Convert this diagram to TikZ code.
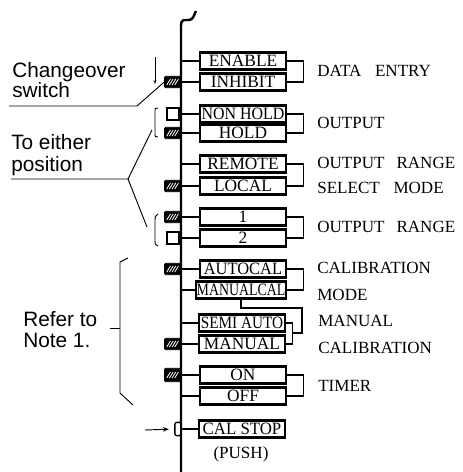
\documentclass[tikz,border=0pt]{standalone}
\usepackage{fontspec}
\setmainfont{Liberation Serif}
\newfontfamily\lblfont{Liberation Sans}
\usepackage{graphicx}
\usetikzlibrary{arrows.meta}
\begin{document}
\begin{tikzpicture}[x=0.75pt,y=-0.75pt,
  swbox/.style={draw, line width=1.7pt, fill=white, minimum width=65pt, minimum height=12.8pt,
    inner sep=0pt, text height=8.5pt, text depth=0pt, font=\fontsize{13}{14}\selectfont},
  conn/.style={line width=1.2pt},
  brk/.style={line width=1pt},
  leader/.style={line width=0.7pt},
  hatch/.style={draw, fill=black, line width=0.6pt, rounded corners=0.8pt,
    minimum width=12pt, minimum height=8.5pt, inner sep=0pt,
    path picture={\foreach \d in {-3,-1,1,3}
      {\draw[white, line width=0.6pt] ([xshift=\d pt]path picture bounding box.center) ++(-1.4pt,-2.3pt) -- ++(2.8pt,4.6pt);}}},
  emptysw/.style={draw, line width=1.3pt, fill=white, minimum width=9.5pt, minimum height=8.5pt, inner sep=0pt},
  side/.style={anchor=base west, inner sep=0pt, font=\fontsize{12.8}{14}\selectfont},
  lbl/.style={anchor=base west, inner sep=0pt, font=\lblfont\fontsize{15.6}{18}\selectfont}]

\useasboundingbox (0,0) rectangle (462,472);
\fill[white] (0,0) rectangle (462,472);

% main vertical line
\coordinate (mtop) at (181,26);
\coordinate (mbot) at (181,472);
\draw[line width=1.8pt] (mbot) -- (mtop) .. controls (181,19) and (184,20) .. (189,20)
  .. controls (193,20) and (194,15) .. (196,11);

% boxes
\node[swbox] (enable)   at (243,61)  {ENABLE};
\node[swbox] (inhibit)  at (243,82)  {INHIBIT};
\node[swbox] (nonhold)  at (243,114) {\scalebox{0.92}[1]{NON HOLD}};
\node[swbox] (hold)     at (243,133) {HOLD};
\node[swbox] (remote)   at (243,164) {REMOTE};
\node[swbox] (local)    at (243,186) {LOCAL};
\node[swbox] (one)      at (243,217) {1};
\node[swbox] (two)      at (243,238) {2};
\node[swbox] (autocal)  at (243,269) {\scalebox{0.95}[1]{AUTOCAL}};
\node[swbox, minimum width=68pt] (manualcal) at (241,290) {\scalebox{0.8}[1]{MANUALCAL}};
\node[swbox] (semiauto) at (242,323) {\scalebox{0.88}[1]{SEMI AUTO}};
\node[swbox] (manual)   at (242,344) {MANUAL};
\node[swbox] (on)       at (243,375) {ON};
\node[swbox] (off)      at (243,396) {OFF};
\node[swbox] (calstop)  at (242,429) {\scalebox{0.97}[1]{CAL STOP}};
\node[side, anchor=center] (push) at (241,454) {(PUSH)};

% connectors from main line to boxes
\foreach \n in {enable,inhibit,nonhold,hold,remote,local,one,two,autocal,manualcal,semiauto,manual,on,off,calstop}
  {\draw[conn] (mtop |- \n.west) -- (\n.west);}

% right brackets
\draw[brk] (enable.east) -- ++(16,0) |- (inhibit.east);
\draw[brk] (nonhold.east) -- ++(16,0) |- (hold.east);
\draw[brk] (remote.east) -- ++(16,0) |- (local.east);
\draw[brk] (one.east) -- ++(16,0) |- (two.east);
\draw[brk] (autocal.east) -- ++(16,0) |- (manualcal.east);
\draw[brk] (semiauto.east) -- ++(6,0) |- (manual.east);
\coordinate (join) at (292,333);
\draw[brk] (manualcal.south) |- (302,308) |- (join);
\draw[brk] (on.east) -- ++(16,0) |- (off.east);

% switches
\node[hatch, anchor=east] (s1) at (mtop |- inhibit) {};
\node[emptysw, anchor=east] (s2) at ([xshift=-0.6pt]mtop |- nonhold) {};
\node[hatch, anchor=east] (s3) at (mtop |- hold) {};
\node[hatch, anchor=east] (s4) at (mtop |- local) {};
\node[hatch, anchor=east] (s5) at (mtop |- one) {};
\node[emptysw, anchor=east] (s6) at ([xshift=-0.6pt]mtop |- two) {};
\node[hatch, anchor=east] (s7) at (mtop |- autocal) {};
\node[hatch, anchor=east] (s8) at (mtop |- manual) {};
\node[hatch, anchor=east, minimum height=10pt] (s9) at (mtop |- on) {};
\node[draw, line width=1pt, fill=white, rounded corners=1.5pt, minimum width=4.5pt,
  minimum height=10pt, inner sep=0pt, anchor=east] (s10) at ([xshift=0.4pt]mtop |- calstop) {};

% push arrow
\coordinate (arrs) at (145,430);
\draw[leader, -{Stealth[length=4.5pt,width=3.5pt]}, shorten >=4pt] (arrs) -- (s10.west);

% right labels
\node[side] (t1)  at (317,76)  {DATA\hspace{0.8em}ENTRY};
\node[side] (t2)  at (317,128) {OUTPUT};
\node[side] (t3)  at (317,168) {OUTPUT\hspace{0.7em}RANGE};
\node[side] (t4)  at (317,193) {SELECT\hspace{0.8em}MODE};
\node[side] (t5)  at (317,232) {OUTPUT\hspace{0.7em}RANGE};
\node[side] (t6)  at (317,273) {CALIBRATION};
\node[side] (t7)  at (317,300) {MODE};
\node[side] (t8)  at (318,326) {MANUAL};
\node[side] (t9)  at (318,353) {CALIBRATION};
\node[side] (t10) at (318,391) {TIMER};

% left labels
\node[lbl] (cg1) at (12,77) {Changeover};
\node[lbl] (cg2) at (12,97) {switch};
\coordinate (cgl) at (9,106);
\coordinate (cgk) at (137,106);
\draw[leader] (cgl) -- (cgk) -- (s1.west);
\coordinate (ma) at (155,57);
\coordinate (mb) at (155,84);
\draw[leader, -{Stealth[length=3pt,width=2.2pt]}] (ma) -- (mb);

\node[lbl] (te1) at (11,149) {To either};
\node[lbl] (te2) at (11,171) {position};
\coordinate (tel) at (11,179);
\coordinate (tej) at (128,179);
\coordinate (teu) at (152,130);
\coordinate (ted) at (147,227);
\draw[leader] (tel) -- (tej) -- (teu);
\draw[leader] (tej) -- (ted);
\draw[leader] (158,108) .. controls (155,108) .. (155,112) -- (155,133) .. controls (155,137) .. (158,137);
\draw[leader] (158,214) .. controls (155,216) .. (155,222) -- (155,238) .. controls (155,245) .. (158,246);

\node[lbl] (rf1) at (23,326) {Refer to};
\node[lbl] (rf2) at (23,347) {Note 1.};
\draw[leader] (128,258) -- (120,262) -- (120,393) -- (133,405);
\draw[leader] (110,328) -- (120,328);
\end{tikzpicture}
\end{document}
